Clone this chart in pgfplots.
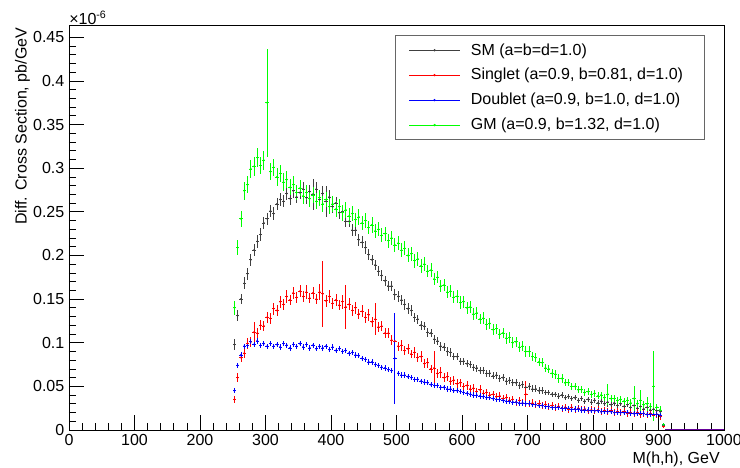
\documentclass[border=0pt]{standalone}
\usepackage{pgfplots}
\pgfplotsset{compat=1.18}
\usepackage{pgfplotstable}
\usepackage{fontspec}
\setmainfont{Liberation Sans}

% bin centre, then value and error for SM, Singlet, Doublet, GM (units of 1e-6 pb/GeV)
\pgfplotstableread{
x sm sme sg sge db dbe gm gme
252.5 0.098 0.006 0.035 0.004 0.045 0.003 0.140 0.008
257.5 0.131 0.006 0.060 0.005 0.074 0.003 0.209 0.009
262.5 0.150 0.006 0.083 0.005 0.086 0.003 0.242 0.009
267.5 0.168 0.007 0.088 0.005 0.096 0.003 0.274 0.010
272.5 0.179 0.007 0.099 0.006 0.097 0.003 0.281 0.010
277.5 0.195 0.007 0.101 0.006 0.101 0.003 0.299 0.010
282.5 0.206 0.007 0.112 0.012 0.098 0.003 0.302 0.011
287.5 0.216 0.007 0.111 0.006 0.102 0.003 0.312 0.011
292.5 0.224 0.007 0.120 0.006 0.097 0.003 0.303 0.010
297.5 0.237 0.007 0.119 0.006 0.099 0.003 0.309 0.011
302.5 0.242 0.007 0.129 0.006 0.096 0.003 0.375 0.062
307.5 0.251 0.007 0.128 0.006 0.099 0.003 0.296 0.010
312.5 0.248 0.007 0.139 0.007 0.096 0.003 0.301 0.010
317.5 0.259 0.007 0.137 0.006 0.098 0.003 0.290 0.010
322.5 0.264 0.007 0.147 0.007 0.095 0.003 0.294 0.010
327.5 0.262 0.007 0.144 0.006 0.099 0.003 0.284 0.010
332.5 0.271 0.007 0.153 0.007 0.097 0.003 0.287 0.010
337.5 0.265 0.007 0.149 0.006 0.094 0.003 0.278 0.009
342.5 0.274 0.008 0.157 0.007 0.098 0.003 0.281 0.010
347.5 0.267 0.007 0.152 0.006 0.096 0.003 0.272 0.009
352.5 0.272 0.007 0.159 0.007 0.099 0.003 0.277 0.009
357.5 0.276 0.008 0.153 0.006 0.095 0.003 0.268 0.009
362.5 0.266 0.007 0.158 0.008 0.098 0.003 0.272 0.009
367.5 0.273 0.008 0.151 0.006 0.094 0.003 0.265 0.009
372.5 0.270 0.018 0.157 0.007 0.097 0.003 0.269 0.009
377.5 0.276 0.008 0.150 0.006 0.093 0.003 0.262 0.009
382.5 0.264 0.007 0.158 0.009 0.096 0.003 0.266 0.009
387.5 0.271 0.008 0.156 0.038 0.094 0.003 0.259 0.009
392.5 0.262 0.018 0.148 0.007 0.096 0.003 0.264 0.009
397.5 0.267 0.008 0.153 0.007 0.092 0.003 0.256 0.009
402.5 0.256 0.007 0.145 0.006 0.095 0.003 0.259 0.009
407.5 0.260 0.007 0.149 0.007 0.091 0.003 0.253 0.009
412.5 0.249 0.007 0.143 0.006 0.093 0.003 0.256 0.009
417.5 0.250 0.007 0.147 0.008 0.090 0.003 0.249 0.009
422.5 0.239 0.007 0.141 0.025 0.091 0.003 0.252 0.009
427.5 0.239 0.007 0.144 0.007 0.088 0.003 0.245 0.009
432.5 0.229 0.007 0.137 0.006 0.089 0.003 0.248 0.009
437.5 0.229 0.007 0.140 0.007 0.086 0.003 0.241 0.008
442.5 0.218 0.007 0.133 0.006 0.085 0.003 0.244 0.009
447.5 0.215 0.007 0.136 0.007 0.082 0.003 0.237 0.008
452.5 0.209 0.007 0.129 0.006 0.081 0.003 0.240 0.009
457.5 0.201 0.006 0.132 0.007 0.078 0.003 0.232 0.008
462.5 0.195 0.006 0.124 0.006 0.078 0.003 0.235 0.009
467.5 0.189 0.006 0.127 0.018 0.075 0.003 0.228 0.008
472.5 0.182 0.006 0.118 0.006 0.074 0.003 0.230 0.008
477.5 0.177 0.006 0.119 0.006 0.072 0.003 0.223 0.008
482.5 0.171 0.006 0.111 0.006 0.071 0.003 0.225 0.008
487.5 0.165 0.006 0.111 0.006 0.069 0.003 0.217 0.008
492.5 0.165 0.006 0.103 0.006 0.068 0.003 0.220 0.008
497.5 0.155 0.006 0.102 0.006 0.082 0.052 0.212 0.008
502.5 0.153 0.006 0.096 0.005 0.065 0.003 0.214 0.008
507.5 0.149 0.006 0.097 0.006 0.063 0.003 0.206 0.008
512.5 0.144 0.006 0.091 0.005 0.063 0.003 0.208 0.008
517.5 0.139 0.006 0.093 0.006 0.061 0.003 0.200 0.008
522.5 0.137 0.006 0.087 0.005 0.060 0.003 0.202 0.008
527.5 0.129 0.005 0.089 0.006 0.058 0.003 0.194 0.008
532.5 0.127 0.005 0.083 0.005 0.058 0.003 0.196 0.008
537.5 0.120 0.005 0.084 0.006 0.056 0.003 0.188 0.008
542.5 0.119 0.005 0.076 0.005 0.055 0.003 0.190 0.008
547.5 0.112 0.005 0.077 0.006 0.054 0.003 0.182 0.007
552.5 0.111 0.005 0.070 0.005 0.052 0.003 0.183 0.008
557.5 0.104 0.005 0.071 0.020 0.051 0.003 0.173 0.007
562.5 0.102 0.005 0.065 0.005 0.051 0.003 0.175 0.007
567.5 0.096 0.005 0.066 0.006 0.049 0.003 0.165 0.007
572.5 0.095 0.005 0.060 0.005 0.049 0.003 0.166 0.007
577.5 0.090 0.005 0.061 0.005 0.047 0.003 0.158 0.007
582.5 0.089 0.005 0.056 0.005 0.047 0.003 0.159 0.007
587.5 0.084 0.004 0.057 0.005 0.045 0.003 0.152 0.007
592.5 0.084 0.004 0.053 0.005 0.045 0.003 0.153 0.007
597.5 0.079 0.004 0.054 0.005 0.044 0.003 0.146 0.007
602.5 0.079 0.004 0.050 0.004 0.043 0.003 0.147 0.007
607.5 0.076 0.004 0.051 0.005 0.042 0.003 0.140 0.007
612.5 0.075 0.004 0.047 0.004 0.041 0.003 0.141 0.007
617.5 0.072 0.004 0.048 0.005 0.040 0.003 0.133 0.007
622.5 0.071 0.004 0.044 0.004 0.040 0.003 0.134 0.007
627.5 0.068 0.004 0.046 0.005 0.039 0.003 0.127 0.006
632.5 0.068 0.004 0.042 0.004 0.038 0.003 0.128 0.007
637.5 0.065 0.004 0.043 0.004 0.037 0.003 0.121 0.006
642.5 0.065 0.004 0.040 0.004 0.037 0.003 0.122 0.006
647.5 0.062 0.004 0.041 0.004 0.036 0.003 0.115 0.006
652.5 0.063 0.004 0.038 0.004 0.035 0.003 0.116 0.006
657.5 0.059 0.004 0.039 0.004 0.035 0.003 0.110 0.006
662.5 0.060 0.004 0.036 0.004 0.034 0.003 0.111 0.006
667.5 0.056 0.004 0.037 0.004 0.033 0.003 0.105 0.006
672.5 0.057 0.004 0.034 0.004 0.033 0.003 0.106 0.006
677.5 0.054 0.004 0.035 0.004 0.032 0.003 0.100 0.006
682.5 0.054 0.004 0.032 0.004 0.032 0.003 0.101 0.006
687.5 0.051 0.004 0.034 0.004 0.031 0.003 0.095 0.006
692.5 0.052 0.004 0.031 0.004 0.031 0.003 0.096 0.006
697.5 0.049 0.004 0.041 0.015 0.030 0.003 0.090 0.006
702.5 0.050 0.004 0.030 0.004 0.030 0.003 0.090 0.006
707.5 0.047 0.004 0.031 0.004 0.029 0.003 0.084 0.005
712.5 0.047 0.004 0.029 0.004 0.029 0.003 0.083 0.005
717.5 0.045 0.004 0.030 0.004 0.028 0.003 0.078 0.005
722.5 0.045 0.004 0.028 0.004 0.028 0.003 0.077 0.005
727.5 0.043 0.003 0.029 0.004 0.027 0.003 0.071 0.005
732.5 0.043 0.003 0.027 0.004 0.027 0.003 0.070 0.005
737.5 0.041 0.003 0.028 0.004 0.026 0.003 0.065 0.005
742.5 0.041 0.003 0.026 0.004 0.026 0.003 0.064 0.005
747.5 0.039 0.003 0.027 0.004 0.026 0.003 0.059 0.005
752.5 0.040 0.003 0.025 0.004 0.025 0.003 0.059 0.005
757.5 0.037 0.003 0.026 0.004 0.025 0.003 0.054 0.004
762.5 0.038 0.003 0.024 0.004 0.025 0.003 0.054 0.004
767.5 0.036 0.003 0.026 0.004 0.024 0.003 0.050 0.004
772.5 0.037 0.003 0.024 0.004 0.024 0.003 0.050 0.004
777.5 0.034 0.003 0.025 0.004 0.024 0.003 0.046 0.004
782.5 0.036 0.003 0.023 0.004 0.023 0.003 0.046 0.004
787.5 0.033 0.003 0.024 0.004 0.023 0.003 0.043 0.004
792.5 0.035 0.003 0.022 0.004 0.023 0.003 0.044 0.004
797.5 0.032 0.003 0.023 0.004 0.022 0.003 0.041 0.004
802.5 0.034 0.003 0.022 0.004 0.022 0.003 0.042 0.004
807.5 0.031 0.003 0.023 0.004 0.022 0.003 0.039 0.004
812.5 0.033 0.003 0.021 0.004 0.021 0.003 0.040 0.004
817.5 0.030 0.003 0.022 0.004 0.021 0.003 0.037 0.004
822.5 0.032 0.006 0.021 0.004 0.021 0.003 0.041 0.012
827.5 0.029 0.003 0.022 0.004 0.021 0.003 0.036 0.004
832.5 0.031 0.003 0.020 0.004 0.020 0.003 0.036 0.004
837.5 0.028 0.003 0.021 0.004 0.020 0.003 0.034 0.004
842.5 0.030 0.003 0.020 0.004 0.020 0.003 0.035 0.004
847.5 0.027 0.003 0.021 0.004 0.020 0.003 0.033 0.004
852.5 0.029 0.003 0.019 0.004 0.020 0.003 0.034 0.004
857.5 0.026 0.003 0.020 0.004 0.019 0.003 0.031 0.004
862.5 0.028 0.003 0.019 0.004 0.019 0.003 0.036 0.014
867.5 0.025 0.003 0.020 0.004 0.019 0.003 0.030 0.004
872.5 0.027 0.003 0.018 0.004 0.019 0.003 0.034 0.012
877.5 0.024 0.003 0.019 0.004 0.019 0.003 0.029 0.004
882.5 0.026 0.003 0.018 0.004 0.018 0.003 0.030 0.008
887.5 0.023 0.003 0.019 0.004 0.018 0.003 0.027 0.004
892.5 0.024 0.003 0.017 0.004 0.018 0.003 0.050 0.040
897.5 0.022 0.003 0.018 0.004 0.018 0.003 0.026 0.004
902.5 0.021 0.003 0.016 0.004 0.017 0.003 0.023 0.004
907.5 0.005 0.002 0.004 0.002 0.006 0.002 0.006 0.002
}\data

\pgfplotsset{
  hist/.style={only marks, mark=*, mark size=0.45pt, line width=0.5pt,
    error bars/x dir=both, error bars/x fixed=2.5,
    error bars/y dir=both, error bars/y explicit,
    error bars/error mark=none,
    error bars/error bar style={line width=0.55pt}},
}
\newcommand\lblfont{\fontsize{12}{14}\selectfont}

\begin{document}
\begin{tikzpicture}
% page = 555pt x 351pt, axis box at the origin
\useasboundingbox (-51.75pt,-28.5pt) rectangle (503.25pt,322.5pt);
\begin{axis}[
  name=ax, at={(0,0)}, anchor=south west,
  scale only axis, width=491.25pt, height=303.75pt,
  xmin=0, xmax=1000, ymin=0, ymax=0.464,
  xtick={0,100,200,300,400,500,600,700,800,900,1000},
  ytick={0,0.05,0.1,0.15,0.2,0.25,0.3,0.35,0.4,0.45},
  minor x tick num=4, minor y tick num=4,
  xtick pos=left, ytick pos=left, tick align=inside,
  major tick length=11pt, minor tick length=5.5pt,
  tick style={black, line width=0.5pt},
  axis line style={line width=0.6pt},
  scaled ticks=false,
  /pgf/number format/assume math mode=true,
  x tick label style={/pgf/number format/1000 sep={}},
  y tick label style={/pgf/number format/.cd, fixed, precision=2},
  tick label style={font=\lblfont},
  xlabel={M(h,h), GeV},
  ylabel={Diff. Cross Section, pb/GeV},
  label style={font=\lblfont},
  xlabel style={at={([xshift=-3pt,yshift=-16.5pt]rel axis cs:1,0)},
    anchor=north east, inner sep=0pt},
  ylabel style={at={([xshift=-29pt,yshift=-2pt]rel axis cs:0,1)},
    anchor=south east, inner sep=0pt},
  legend style={at={(0.498,0.975)}, anchor=north west, draw=black!60,
    line width=0.5pt, font=\lblfont,
    row sep=4.5pt, inner xsep=10pt, inner ysep=4pt},
  legend cell align=left,
  legend image code/.code={\draw[#1] (0pt,0pt) -- (38pt,0pt);
    \fill[#1] (19pt,0pt) circle (0.6pt);
    \path (44pt,0pt);},
]
\addlegendimage{black!75, line width=0.5pt}
\addlegendentry{SM (a=b=d=1.0)}
\addlegendimage{red, line width=0.5pt}
\addlegendentry{Singlet (a=0.9, b=0.81, d=1.0)\hspace*{4pt}}
\addlegendimage{blue, line width=0.5pt}
\addlegendentry{Doublet (a=0.9, b=1.0, d=1.0)}
\addlegendimage{green, line width=0.5pt}
\addlegendentry{GM (a=0.9, b=1.32, d=1.0)}

\addplot[black!75, hist, forget plot] table[x=x, y=sm, y error=sme] {\data};
\addplot[red, hist, forget plot] table[x=x, y=sg, y error=sge] {\data};
\addplot[blue, hist, forget plot] table[x=x, y=db, y error=dbe] {\data};
\addplot[green, hist, forget plot] table[x=x, y=gm, y error=gme] {\data};
\addplot[blue!60!red, line width=0.8pt, forget plot] coordinates {(910,0) (1000,0)};
\end{axis}
\node[anchor=south west, inner sep=0pt, font=\lblfont]
  at (ax.north west) {×10\textsuperscript{-6}};
\end{tikzpicture}
\end{document}
